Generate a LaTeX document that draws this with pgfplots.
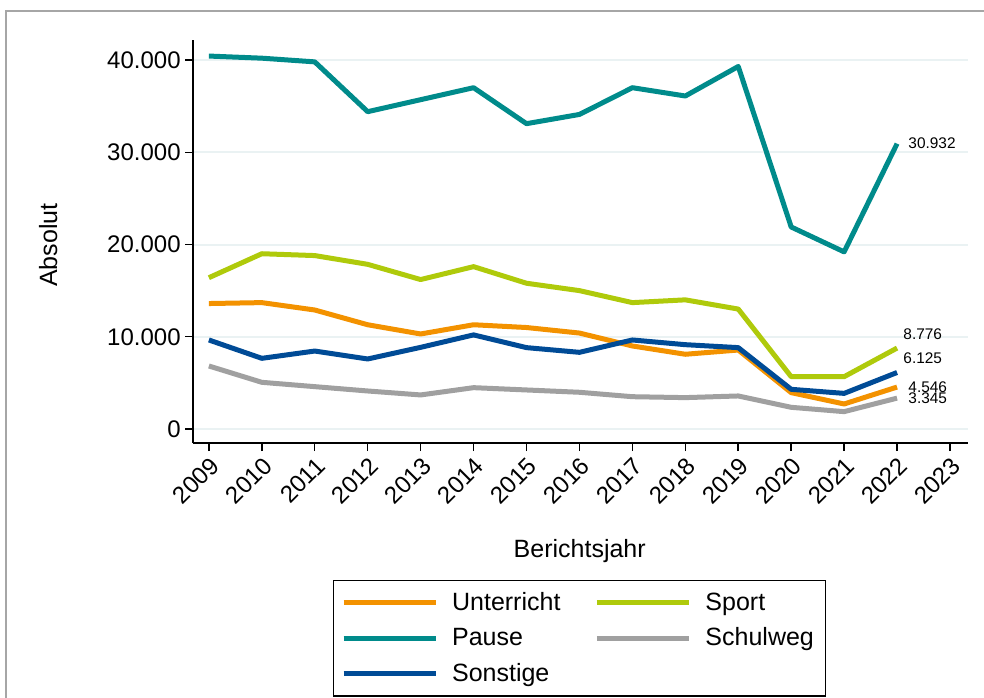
\documentclass[border=0pt]{standalone}
\usepackage{pgfplots}
\pgfplotsset{compat=1.18}
\usepackage{fontspec}
\setmainfont{Liberation Sans}
\definecolor{cUnt}{RGB}{243,146,0}
\definecolor{cSport}{RGB}{175,202,11}
\definecolor{cPause}{RGB}{0,139,139}
\definecolor{cSchul}{RGB}{160,160,160}
\definecolor{cSons}{RGB}{0,75,150}
\definecolor{cGrid}{RGB}{234,242,243}
\begin{document}
\begin{tikzpicture}
\useasboundingbox (0,0) rectangle (492pt,348.5pt);
\begin{axis}[
  scale only axis,
  width=387.5pt, height=201.5pt,
  at={(96.5pt,127pt)}, anchor=south west,
  xmin=2008.7, xmax=2023.34,
  ymin=-1520, ymax=42170,
  axis x line*=bottom, axis y line*=left,
  axis line style={line width=0.75pt, black},
  tick align=outside,
  major tick length=4pt,
  tick style={line width=0.75pt, black},
  scaled y ticks=false,
  xtick={2009,...,2023},
  xticklabels={2009,2010,2011,2012,2013,2014,2015,2016,2017,2018,2019,2020,2021,2022,2023},
  ytick={0,10000,20000,30000,40000},
  yticklabels={0,10.000,20.000,30.000,40.000},
  ymajorgrids,
  major grid style={line width=1pt, cGrid},
  xticklabel style={font=\fontsize{12}{14}\selectfont, rotate=45, anchor=north east, inner sep=1.5pt},
  yticklabel style={font=\fontsize{12}{14}\selectfont, inner sep=2pt},
  /pgf/number format/assume math mode=true,
  xlabel={Berichtsjahr},
  ylabel={Absolut},
  label style={font=\fontsize{12.5}{14}\selectfont},
  xlabel style={at={(axis description cs:0.499,-0.268)}, anchor=center},
  ylabel style={at={(axis description cs:-0.187,0.491)}, anchor=center},
  legend columns=2,
  legend style={at={(axis description cs:0.4987,-0.340)}, anchor=north,
    draw=black, line width=0.6pt, font=\fontsize{12.5}{14}\selectfont,
    inner xsep=4pt, inner ysep=3.8pt,
    /tikz/every even column/.append style={column sep=15pt},
    row sep=3.2pt},
  legend cell align=left,
  legend image code/.code={\draw[#1, line width=2.5pt] (0pt,0pt) -- (46pt,0pt); \path (51pt,0pt);},
  every axis plot/.append style={line width=2.5pt, line join=round},
]
\addplot[cUnt, mark=none] coordinates {(2009,13600) (2010,13700) (2011,12900) (2012,11300) (2013,10300) (2014,11300) (2015,11000) (2016,10400) (2017,9000) (2018,8100) (2019,8560) (2020,3940) (2021,2710) (2022,4546)};
\addlegendentry{Unterricht}
\addplot[cSport, mark=none] coordinates {(2009,16400) (2010,19000) (2011,18800) (2012,17850) (2013,16200) (2014,17600) (2015,15800) (2016,15000) (2017,13700) (2018,14000) (2019,13000) (2020,5670) (2021,5670) (2022,8776)};
\addlegendentry{Sport}
\addplot[cPause, mark=none] coordinates {(2009,40430) (2010,40200) (2011,39800) (2012,34400) (2013,35700) (2014,37000) (2015,33100) (2016,34100) (2017,37000) (2018,36100) (2019,39300) (2020,21900) (2021,19200) (2022,30932)};
\addlegendentry{Pause}
\addplot[cSchul, mark=none] coordinates {(2009,6830) (2010,5060) (2011,4590) (2012,4120) (2013,3690) (2014,4480) (2015,4230) (2016,3980) (2017,3500) (2018,3400) (2019,3580) (2020,2350) (2021,1880) (2022,3345)};
\addlegendentry{Schulweg}
\addplot[cSons, mark=none] coordinates {(2009,9650) (2010,7660) (2011,8450) (2012,7590) (2013,8850) (2014,10200) (2015,8820) (2016,8310) (2017,9650) (2018,9140) (2019,8820) (2020,4300) (2021,3860) (2022,6125)};
\addlegendentry{Sonstige}
\begin{scope}[every node/.style={font=\fontsize{7.7}{9}\selectfont, anchor=west, inner sep=0pt}]
\node[xshift=5.5pt] at (axis cs:2022,30932) {30.932};
\node[xshift=3pt, yshift=7pt] at (axis cs:2022,8776) {8.776};
\node[xshift=3pt, yshift=7pt] at (axis cs:2022,6125) {6.125};
\node[xshift=5.5pt] at (axis cs:2022,4546) {4.546};
\node[xshift=5.5pt] at (axis cs:2022,3345) {3.345};
\end{scope}
\end{axis}
\draw[line width=1pt, color=black!35] (3pt,-10pt) -- (3pt,343pt) -- (510pt,343pt);
\end{tikzpicture}
\end{document}
